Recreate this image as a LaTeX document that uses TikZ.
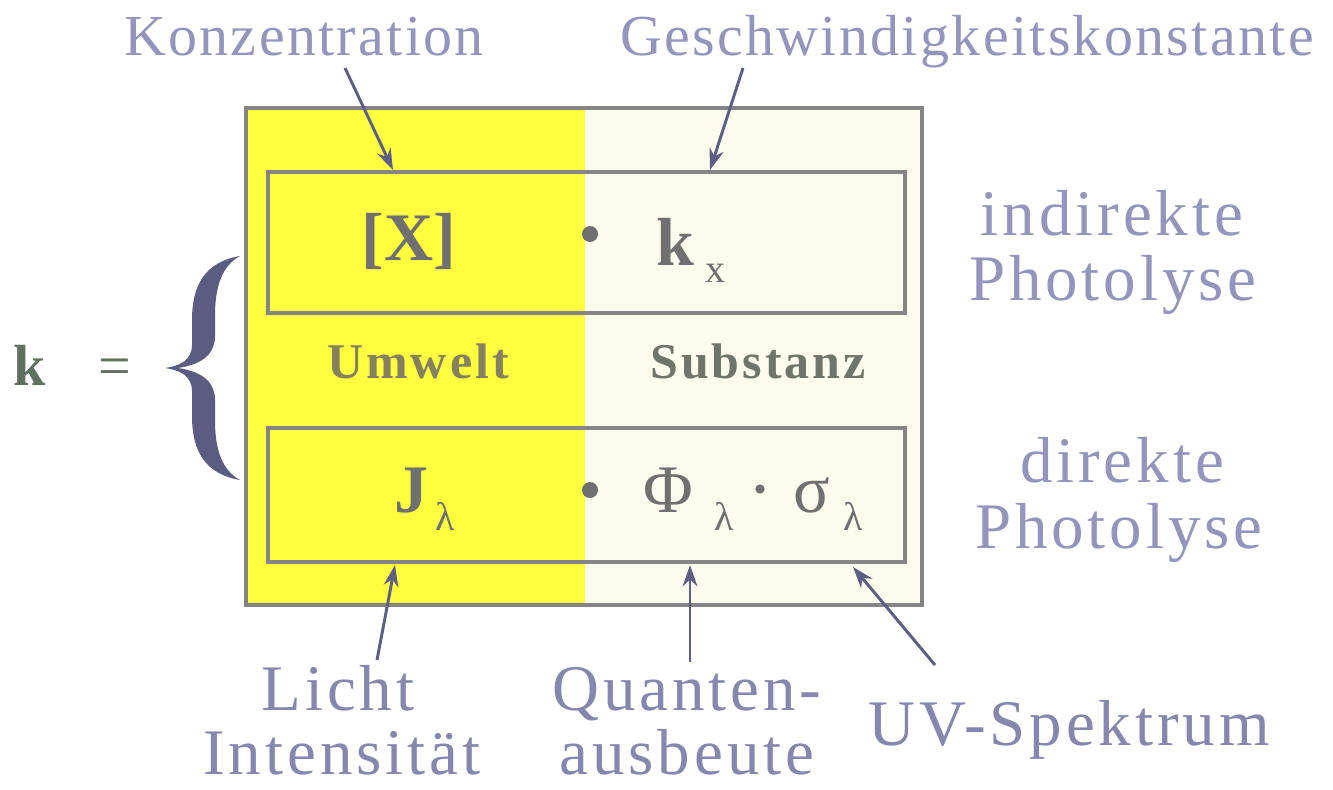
\documentclass[tikz,border=0pt]{standalone}
\usepackage{fontspec}
\setmainfont{Liberation Serif}
\usetikzlibrary{arrows.meta}
\definecolor{yel}{HTML}{FFFF40}
\definecolor{cream}{HTML}{FBFBEE}
\definecolor{framec}{HTML}{858585}
\definecolor{labc}{HTML}{9494BC}
\definecolor{labd}{HTML}{8686AE}
\definecolor{arrc}{HTML}{5E5E84}
\definecolor{txtc}{HTML}{707070}
\definecolor{umwc}{HTML}{85805E}
\definecolor{subc}{HTML}{6F7568}
\definecolor{brc}{HTML}{5C5C82}
\definecolor{kc}{HTML}{607060}
\newcommand{\fpx}[1]{\fontsize{\dimexpr #1pt*3/4\relax}{\dimexpr #1pt*9/10\relax}\selectfont}
\begin{document}
\begin{tikzpicture}[x=0.75pt,y=-0.75pt,
  every node/.style={inner sep=0pt,anchor=base},
  toplbl/.style={text=labc,font=\fpx{58}\addfontfeature{LetterSpace=4}},
  sidelbl/.style={text=labc,font=\fpx{65}\addfontfeature{LetterSpace=6}},
  botlbl/.style={text=labd,font=\fpx{65}\addfontfeature{LetterSpace=6}},
  mathtxt/.style={text=txtc,font=\fpx{68}\bfseries},
  greek/.style={text=txtc,font=\fpx{68}},
  subtxt/.style={text=txtc,font=\fpx{40}},
  midlbl/.style={font=\fpx{50}\bfseries\addfontfeature{LetterSpace=6}},
  box/.style={draw=framec,line width=2.6pt},
  arr/.style={draw=arrc,line width=2.2pt,-{Stealth[length=16pt,width=11pt]}},
  dot/.style={circle,fill=#1,draw=none}
]
\useasboundingbox (0,0) rectangle (1333,789);
\fill[white] (0,0) rectangle (1333,789);
% background panel
\fill[yel] (246,108) rectangle (585,605);
\fill[cream] (585,108) rectangle (922,605);
\draw[box] (246,108) rectangle (922,605);
% inner boxes
\draw[box] (268,172) rectangle (905,313);
\draw[box] (268,428) rectangle (905,562);
\coordinate (b1top1) at (393,170);
\coordinate (b1top2) at (710,170);
\coordinate (b2bot1) at (395,565);
\coordinate (b2bot2) at (690,565);
\coordinate (b2bot3) at (853,567);
% top row content
\node[mathtxt] (X) at (409,260) {[X]};
\node[dot=txtc,minimum size=12pt,anchor=center] (d1) at (590,234) {};
\node[mathtxt] (k) at (675,265) {k};
\node[subtxt] (kx) at (715,282) {x};
% middle labels
\node[midlbl,text=umwc] (umw) at (418,378) {Umwelt};
\node[midlbl,text=subc] (sub) at (758,378) {Substanz};
% bottom row content
\node[mathtxt] (J) at (411,512) {J};
\node[subtxt] (Jl) at (445,530) {λ};
\node[dot=txtc,minimum size=12pt,anchor=center] (d2) at (590,490) {};
\node[greek] (Phi) at (668,512) {Φ};
\node[subtxt] (Phil) at (724,530) {λ};
\node[dot=txtc,minimum size=7pt,anchor=center] (d3) at (760,489) {};
\node[greek] (sig) at (812,512) {σ};
\node[subtxt] (sigl) at (853,530) {λ};
% k = brace
\node[text=kc,font=\fpx{58}\bfseries] (kk) at (30,385) {k};
\node[text=kc,font=\fpx{58}] (eq) at (115,385) {=};
\fill[brc] (240,256) .. controls (205,262) and (192,285) .. (192,320) -- (192,345)
  .. controls (192,360) and (180,366) .. (165,368)
  .. controls (180,370) and (192,376) .. (192,391) -- (192,416)
  .. controls (192,451) and (205,474) .. (240,480)
  .. controls (222,470) and (215,450) .. (215,420) -- (215,400)
  .. controls (215,384) and (205,372) .. (178,368)
  .. controls (205,364) and (215,352) .. (215,336) -- (215,316)
  .. controls (215,286) and (222,266) .. (240,256) -- cycle;
% right labels
\node[sidelbl] (ind1) at (1112,235) {indirekte};
\node[sidelbl] (ind2) at (1113,300) {Photolyse};
\node[sidelbl] (dir1) at (1122,482) {direkte};
\node[sidelbl] (dir2) at (1119,548) {Photolyse};
% top labels
\node[toplbl] (konz) at (304,55) {Konzentration};
\node[toplbl] (gesch) at (967,55) {Geschwindigkeitskonstante};
\coordinate (konzS) at (345,68);
\coordinate (geschS) at (743,68);
% bottom labels
\node[botlbl] (licht) at (338,710) {Licht};
\node[botlbl] (inten) at (342,774) {Intensität};
\node[botlbl] (quant) at (687,710) {Quanten-};
\node[botlbl] (ausb) at (687,774) {ausbeute};
\node[botlbl] (uv) at (1069,745) {UV-Spektrum};
\coordinate (lichtN) at (377,660);
\coordinate (quantN) at (690,662);
\coordinate (uvN) at (935,665);
% arrows
\draw[arr] (konzS) -- (b1top1);
\draw[arr] (geschS) -- (b1top2);
\draw[arr] (lichtN) -- (b2bot1);
\draw[arr] (quantN) -- (b2bot2);
\draw[arr] (uvN) -- (b2bot3);
\end{tikzpicture}
\end{document}
